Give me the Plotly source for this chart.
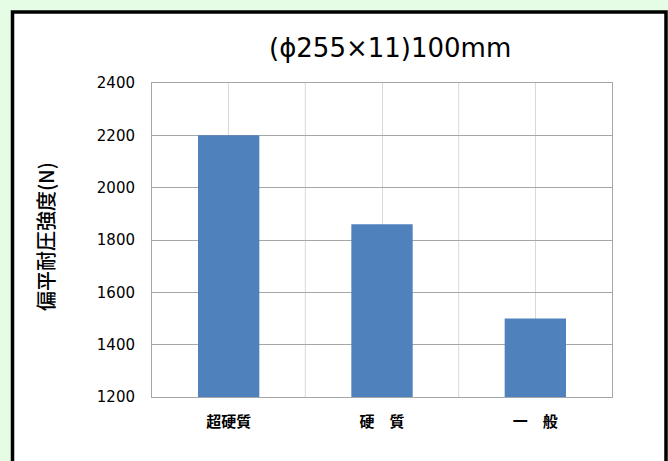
import plotly.graph_objects as go

categories = ["超硬質", "硬　質", "一　般"]
values = [2200, 1860, 1500]
y_ticks = [1200, 1400, 1600, 1800, 2000, 2200, 2400]
title_text = "(\u03d5255\u00d711)100mm"
y_title = "偏平耐圧強度(N)"

W, H = 668, 461
L, R, T, B = 152, 56, 83, 64
pw, ph = W - L - R, H - T - B

def px_x(px):
    return (px - L) / pw

def px_y(py):
    return (H - B - py) / ph

fig = go.Figure()
fig.add_trace(go.Bar(
    x=categories, y=values, width=0.4,
    marker=dict(color="#4f81bd", line=dict(width=0)),
))

shapes = [
    dict(type="rect", xref="paper", yref="paper", layer="below",
         x0=px_x(12.5), x1=px_x(666), y0=px_y(480), y1=px_y(12),
         fillcolor="white", line=dict(color="black", width=3.5)),
]
for i in range(1, len(categories)):
    shapes.append(dict(type="line", xref="x", yref="paper", layer="below",
                       x0=i - 0.5, x1=i - 0.5, y0=0, y1=1,
                       line=dict(color="#d9d9d9", width=1)))

fig.update_layout(
    width=W, height=H,
    margin=dict(l=L, r=R, t=T, b=B),
    paper_bgcolor="#e4fde4",
    plot_bgcolor="rgba(0,0,0,0)",
    showlegend=False,
    shapes=shapes,
    xaxis=dict(
        type="category", range=[-0.5, len(categories) - 0.5],
        showgrid=True, gridcolor="#d9d9d9", gridwidth=1,
        showline=True, linecolor="#a6a6a6", linewidth=1, mirror=True,
        ticks="", ticklabelstandoff=11,
        tickfont=dict(family="Noto Sans CJK JP", size=15, color="black", weight="bold"),
        zeroline=False,
    ),
    yaxis=dict(
        range=[y_ticks[0], y_ticks[-1]], tickvals=y_ticks,
        showgrid=True, gridcolor="#a6a6a6", gridwidth=1,
        showline=True, linecolor="#a6a6a6", linewidth=1, mirror=True,
        ticks="", ticklabelstandoff=13,
        tickfont=dict(family="DejaVu Sans", size=15, color="black"),
        zeroline=False,
    ),
    annotations=[
        dict(text=title_text, xref="paper", yref="paper",
             x=px_x(390), y=px_y(48), showarrow=False,
             xanchor="center", yanchor="middle",
             font=dict(family="DejaVu Sans", size=26, color="black")),
        dict(text=y_title, xref="paper", yref="paper",
             x=px_x(45), y=px_y(237), showarrow=False, textangle=-90,
             xanchor="center", yanchor="middle",
             font=dict(family="Noto Sans CJK JP", size=20, color="black", weight=500)),
    ],
)

fig.write_html("out.html")
